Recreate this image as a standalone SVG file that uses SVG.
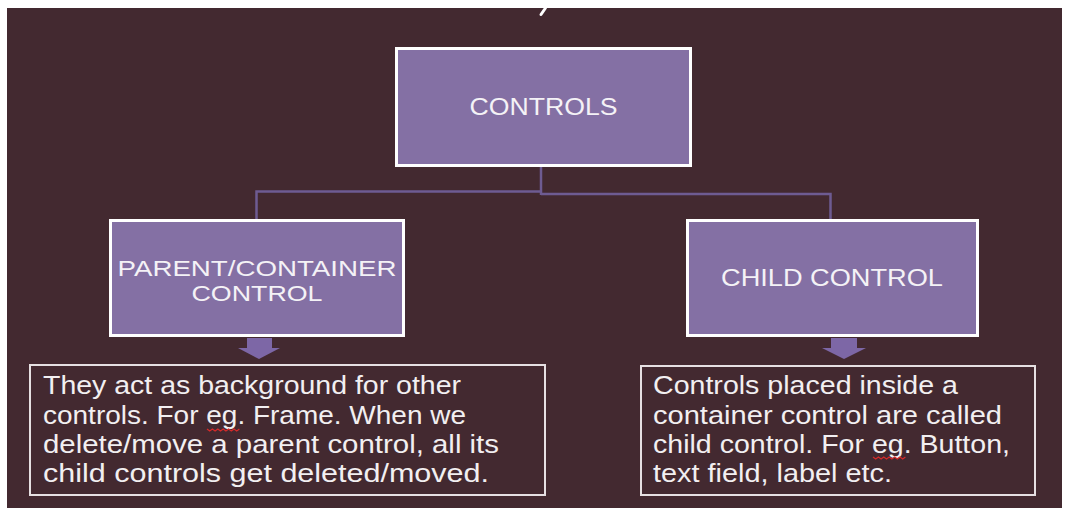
<svg xmlns="http://www.w3.org/2000/svg" width="1065" height="508" viewBox="0 0 1065 508">
  <style>
    .box { fill: #8470a4; stroke: #ffffff; stroke-width: 3; }
    .label { font-family: "Liberation Sans", Arial, sans-serif; font-size: 24px; fill: #f4f2f6; text-anchor: middle; }
    .label2 { font-size: 22px; }
    .body { font-family: "Liberation Sans", Arial, sans-serif; font-size: 25px; fill: #f2eff1; }
    .tbox { fill: none; stroke: #e6e0e2; stroke-width: 2; }
    .conn { fill: none; stroke: #6e5b92; stroke-width: 2.5; }
    .arrow { fill: #7d67a6; }
    .squig { fill: none; stroke: #d42a2a; stroke-width: 1.3; }
  </style>
  <rect x="0" y="0" width="1065" height="508" fill="#ffffff"/>
  <rect x="7" y="8" width="1055" height="500" fill="#432930"/>
  <path d="M545.5 8 L541 14.5" stroke="#ffffff" stroke-width="3" stroke-linecap="round"/>

  <g id="connectors">
    <path class="conn" d="M541 167 V195"/>
    <path class="conn" d="M541 191.5 H256.5 V219"/>
    <path class="conn" d="M541 194 H830.5 V219"/>
    <polygon class="arrow" points="247,338 272,338 272,348 280,348 259,359 238,348 247,348"/>
    <polygon class="arrow" points="831,338 857,338 857,348 866,348 844,359 822,348 831,348"/>
  </g>

  <g id="controls">
    <rect class="box" x="396.5" y="48.5" width="294" height="117"/>
    <text class="label" x="543.5" y="115" textLength="148" lengthAdjust="spacingAndGlyphs">CONTROLS</text>
  </g>

  <g id="parent-control">
    <rect class="box" x="110.5" y="220.5" width="293" height="115"/>
    <text class="label label2" x="257" y="276" textLength="279" lengthAdjust="spacingAndGlyphs">PARENT/CONTAINER</text>
    <text class="label label2" x="257" y="301" textLength="131" lengthAdjust="spacingAndGlyphs">CONTROL</text>
  </g>

  <g id="child-control">
    <rect class="box" x="687.5" y="220.5" width="290" height="115"/>
    <text class="label" x="832" y="286" textLength="222" lengthAdjust="spacingAndGlyphs">CHILD CONTROL</text>
  </g>

  <g id="parent-desc">
    <rect class="tbox" x="30" y="365" width="515" height="130"/>
    <text class="body" x="43" y="394" textLength="418" lengthAdjust="spacingAndGlyphs">They act as background for other</text>
    <text class="body" x="43" y="424" textLength="423" lengthAdjust="spacingAndGlyphs">controls. For eg. Frame. When we</text>
    <text class="body" x="43" y="453" textLength="456" lengthAdjust="spacingAndGlyphs">delete/move a parent control, all its</text>
    <text class="body" x="43" y="482" textLength="446" lengthAdjust="spacingAndGlyphs">child controls get deleted/moved.</text>
    <path class="squig" d="M207 429 l2.7 2 l2.7 -2 l2.7 2 l2.7 -2 l2.7 2 l2.7 -2 l2.7 2 l2.7 -2 l2.7 2 l2.7 -2 l2.7 2 l2.7 -2"/>
  </g>

  <g id="child-desc">
    <rect class="tbox" x="641" y="366" width="394" height="129"/>
    <text class="body" x="653" y="394" textLength="305" lengthAdjust="spacingAndGlyphs">Controls placed inside a</text>
    <text class="body" x="653" y="424" textLength="349" lengthAdjust="spacingAndGlyphs">container control are called</text>
    <text class="body" x="653" y="453" textLength="357" lengthAdjust="spacingAndGlyphs">child control. For eg. Button,</text>
    <text class="body" x="653" y="482" textLength="239" lengthAdjust="spacingAndGlyphs">text field, label etc.</text>
    <path class="squig" d="M873 457 l2.7 2 l2.7 -2 l2.7 2 l2.7 -2 l2.7 2 l2.7 -2 l2.7 2 l2.7 -2 l2.7 2 l2.7 -2 l2.7 2 l2.7 -2"/>
  </g>
</svg>
